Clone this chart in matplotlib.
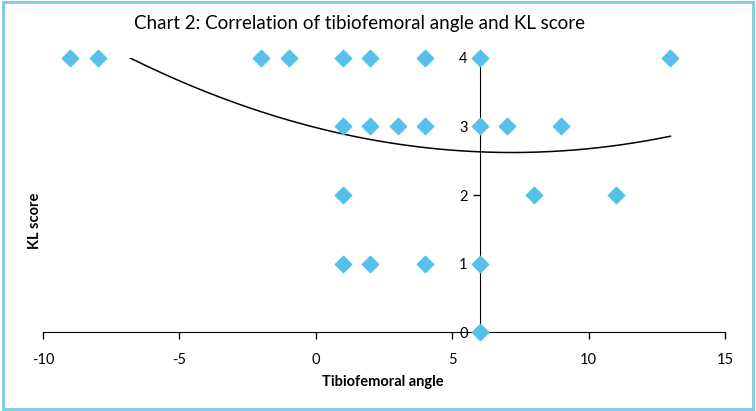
import numpy as np
import matplotlib.pyplot as plt
from matplotlib.patches import Rectangle

plt.rcParams['font.family'] = ['Lato', 'DejaVu Sans']
plt.rcParams['axes.unicode_minus'] = False

# Data
angle = [-9, -8, -2, -1, 1, 2, 4, 6, 13,
         1, 2, 3, 4, 6, 7, 9,
         1, 8, 11,
         1, 2, 4, 6,
         6]
kl = [4, 4, 4, 4, 4, 4, 4, 4, 4,
      3, 3, 3, 3, 3, 3, 3,
      2, 2, 2,
      1, 1, 1, 1,
      0]
# polynomial (order 2) trendline as shown on the chart: c2, c1, c0
trend_coef = [0.00704, -0.1012, 2.984]
x_ticks = [-10, -5, 0, 5, 10, 15]
y_ticks = [0, 1, 2, 3, 4]

fig = plt.figure(figsize=(7.56, 4.11), dpi=100)
ax = fig.add_axes([0.057, 0.192, 0.902, 0.667])

ax.scatter(angle, kl, marker='D', s=70, color='#55C1EA', zorder=3, clip_on=False)

xs = np.linspace(min(angle), max(angle), 200)
ax.plot(xs, np.polyval(trend_coef, xs), color='black', lw=1.1, zorder=2)

ax.set_xlim(-10, 15)
ax.set_ylim(0, 4)
ax.set_xticks(x_ticks)
ax.set_yticks(y_ticks)

for s in ['top', 'right']:
    ax.spines[s].set_visible(False)
ax.spines['left'].set_position(('data', 6))
ax.spines['bottom'].set_position(('data', 0))
ax.tick_params(axis='both', labelsize=10.5, length=5, width=1)
ax.tick_params(axis='x', pad=10)

fig.text(0.475, 0.942, 'Chart 2: Correlation of tibiofemoral angle and KL score',
         ha='center', va='center', fontsize=13.5)
fig.text(0.507, 0.07, 'Tibiofemoral angle', ha='center', va='center',
         fontsize=10.5, fontweight='bold')
fig.text(0.046, 0.462, 'KL score', ha='center', va='center', rotation=90,
         fontsize=10.5, fontweight='bold')

fig.patches.append(Rectangle((0.004, 0.006), 0.992, 0.988, transform=fig.transFigure,
                             fill=False, edgecolor='#7CCAE6', lw=2))

fig.savefig('out.png', dpi=100)
